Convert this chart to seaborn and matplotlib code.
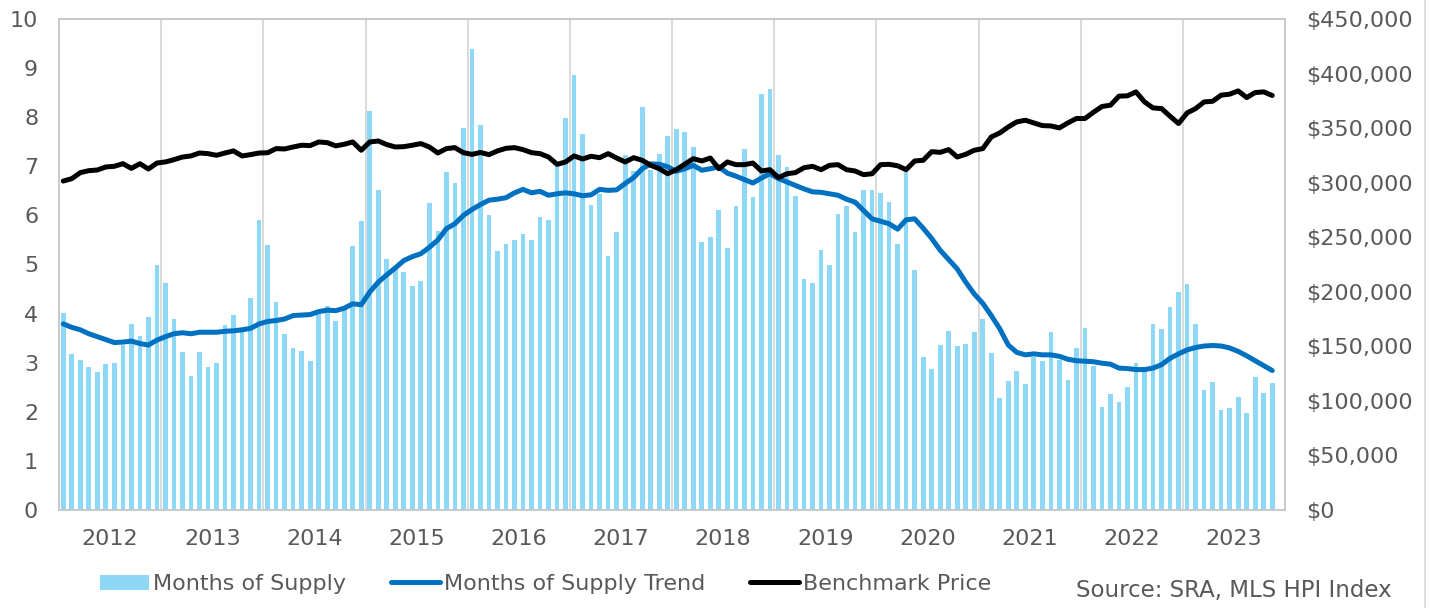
import numpy as np
import pandas as pd
import matplotlib
matplotlib.use("Agg")
import matplotlib.pyplot as plt
from matplotlib.ticker import FuncFormatter, FixedLocator
from matplotlib.lines import Line2D
import seaborn as sns

# ---- data (monthly, Jan 2012 - Nov 2023) ----
years = ["2012", "2013", "2014", "2015", "2016", "2017",
         "2018", "2019", "2020", "2021", "2022", "2023"]

months_of_supply = [
    4.01, 3.17, 3.05, 2.91, 2.82, 2.98, 2.99, 3.37, 3.79, 3.55, 3.93, 5.00,
    4.63, 3.90, 3.22, 2.72, 3.22, 2.91, 3.00, 3.77, 3.97, 3.65, 4.31, 5.91,
    5.40, 4.24, 3.59, 3.29, 3.24, 3.04, 4.00, 4.16, 3.84, 4.10, 5.37, 5.88,
    8.12, 6.51, 5.11, 4.95, 4.85, 4.56, 4.66, 6.26, 5.68, 6.88, 6.65, 7.79,
    9.39, 7.84, 6.01, 5.27, 5.41, 5.50, 5.63, 5.49, 5.96, 5.91, 7.04, 7.98,
    8.86, 7.65, 6.21, 6.44, 5.18, 5.67, 7.22, 6.90, 8.21, 6.92, 7.26, 7.62,
    7.76, 7.69, 7.39, 5.45, 5.57, 6.10, 5.33, 6.20, 7.35, 6.37, 8.47, 8.58,
    7.22, 6.99, 6.39, 4.71, 4.63, 5.30, 4.99, 6.03, 6.19, 5.67, 6.51, 6.52,
    6.46, 6.27, 5.42, 6.88, 4.88, 3.11, 2.87, 3.37, 3.64, 3.35, 3.39, 3.63,
    3.89, 3.19, 2.28, 2.63, 2.84, 2.56, 3.11, 3.04, 3.62, 3.05, 2.65, 3.29,
    3.71, 2.94, 2.10, 2.36, 2.19, 2.50, 2.99, 2.87, 3.79, 3.68, 4.13, 4.43,
    4.61, 3.79, 2.44, 2.61, 2.04, 2.07, 2.31, 1.97, 2.71, 2.38, 2.59,
]

supply_trend = [
    3.79, 3.72, 3.67, 3.59, 3.53, 3.47, 3.41, 3.42, 3.44, 3.39, 3.36, 3.46,
    3.53, 3.59, 3.61, 3.59, 3.62, 3.62, 3.62, 3.64, 3.65, 3.67, 3.70, 3.79,
    3.84, 3.86, 3.89, 3.96, 3.97, 3.98, 4.04, 4.07, 4.06, 4.11, 4.20, 4.18,
    4.44, 4.64, 4.79, 4.93, 5.08, 5.16, 5.22, 5.35, 5.50, 5.73, 5.83, 6.00,
    6.12, 6.22, 6.31, 6.33, 6.36, 6.46, 6.53, 6.46, 6.49, 6.41, 6.44, 6.46,
    6.44, 6.40, 6.42, 6.53, 6.51, 6.52, 6.65, 6.77, 6.95, 7.05, 7.04, 6.99,
    6.90, 6.95, 7.02, 6.92, 6.95, 6.99, 6.86, 6.80, 6.73, 6.66, 6.76, 6.85,
    6.75, 6.68, 6.61, 6.54, 6.48, 6.47, 6.44, 6.41, 6.33, 6.27, 6.10, 5.93,
    5.88, 5.83, 5.72, 5.91, 5.93, 5.74, 5.53, 5.29, 5.10, 4.91, 4.64, 4.40,
    4.21, 3.96, 3.69, 3.36, 3.21, 3.16, 3.18, 3.16, 3.16, 3.13, 3.07, 3.04,
    3.03, 3.02, 2.99, 2.97, 2.89, 2.88, 2.86, 2.86, 2.89, 2.96, 3.09, 3.18,
    3.26, 3.31, 3.34, 3.35, 3.34, 3.30, 3.23, 3.14, 3.04, 2.94, 2.84,
]

benchmark_price = [
    301500, 303650, 309200, 311000, 311600, 314400, 315000, 317400, 313100, 317400, 312500, 318000,
    319000, 321100, 323500, 324500, 327200, 326600, 325100, 327200, 329100, 324500, 325700, 327200,
    327400, 331200, 330900, 332700, 334300, 334000, 337300, 336700, 333700, 335200, 337300, 329700,
    337300, 338200, 334900, 332700, 333000, 334300, 335800, 332700, 327200, 331200, 332100, 327500,
    325900, 327700, 325700, 329100, 331500, 332100, 330300, 327500, 326600, 323500, 316800, 319000,
    324500, 321700, 324200, 322900, 326600, 322600, 319000, 322900, 320500, 315900, 312800, 308200,
    311900, 317000, 322000, 319900, 322600, 312800, 319000, 316500, 316500, 318000, 310700, 311900,
    304600, 308200, 309200, 313700, 315000, 311900, 315900, 316500, 311900, 310700, 307300, 308200,
    316500, 316800, 315500, 311900, 319900, 320500, 328400, 327800, 330300, 323500, 326000, 329700,
    331200, 341900, 345600, 351100, 355700, 357200, 354800, 352300, 352000, 350200, 354800, 358800,
    358800, 364500, 369800, 371000, 379300, 379600, 383200, 374000, 368500, 367900, 360900, 354200,
    363900, 367900, 374000, 374600, 380200, 381100, 384100, 378000, 382600, 383200, 379900,
]

series_labels = ["Months of Supply", "Months of Supply Trend", "Benchmark Price"]
source_note = "Source: SRA, MLS HPI Index"

df = pd.DataFrame({
    "month": np.arange(len(months_of_supply)),
    "supply": months_of_supply,
    "trend": supply_trend,
    "price": benchmark_price,
})

# ---- styling ----
sns.set_theme(style="white")
plt.rcParams["font.family"] = ["DejaVu Sans"]
text_color = "#595959"
bar_color = "#8DD7F7"
trend_color = "#0070C0"
frame_color = "#C9C9C9"
grid_color = "#D9D9D9"
fs = 16

fig = plt.figure(figsize=(14.34, 6.08), dpi=100)
ax = fig.add_axes([59 / 1434, 1 - 510 / 608, (1285 - 59) / 1434, (510 - 19) / 608])

sns.barplot(data=df, x="month", y="supply", native_scale=True, width=0.55,
            color=bar_color, saturation=1, edgecolor="none", linewidth=0,
            label=series_labels[0], ax=ax, zorder=2)
sns.lineplot(data=df, x="month", y="trend", color=trend_color, linewidth=3.6,
             label=series_labels[1], ax=ax, zorder=3, solid_capstyle="round")

ax2 = ax.twinx()
sns.lineplot(data=df, x="month", y="price", color="black", linewidth=3.6,
             label=series_labels[2], ax=ax2, zorder=4, solid_capstyle="round")

for a in (ax, ax2):
    if a.get_legend() is not None:
        a.get_legend().remove()

n_slots = 12 * len(years)
ax.set_xlim(-0.5, n_slots - 0.5)
ax.set_ylim(0, 10)
ax2.set_ylim(0, 450000)

ax.set_yticks(np.arange(0, 11, 1))
ax2.set_yticks(np.arange(0, 450001, 50000))
ax2.yaxis.set_major_formatter(FuncFormatter(lambda v, p: f"${v:,.0f}"))

ax.set_xticks([5.5 + 12 * i for i in range(len(years))])
ax.set_xticklabels(years)
ax.xaxis.set_minor_locator(FixedLocator([11.5 + 12 * i for i in range(len(years) - 1)]))
ax.grid(False)
ax2.grid(False)
ax.grid(True, which="minor", axis="x", color=grid_color, linewidth=1.4, zorder=0)
ax.set_axisbelow(True)

ax.set_xlabel("")
ax.set_ylabel("")
ax2.set_ylabel("")

ax.tick_params(axis="both", which="both", length=0, labelsize=fs, labelcolor=text_color)
ax.tick_params(axis="y", pad=15)
ax.tick_params(axis="x", pad=14)
ax2.tick_params(axis="y", length=0, labelsize=fs, labelcolor=text_color, pad=15)

for a in (ax, ax2):
    for s in a.spines.values():
        s.set_color(frame_color)
        s.set_linewidth(1.3)

# legend along the bottom, in series order
h1, l1 = ax.get_legend_handles_labels()
h2, l2 = ax2.get_legend_handles_labels()
lookup = dict(zip(l1 + l2, h1 + h2))
handles = [lookup[name] for name in series_labels]
fig.legend(handles, series_labels, loc="center left",
           bbox_to_anchor=(100 / 1434, 1 - 584 / 608), ncol=3, frameon=False,
           fontsize=fs, labelcolor=text_color, borderpad=0, borderaxespad=0,
           handlelength=2.2, handleheight=0.65, handletextpad=0.2, columnspacing=2.0)

fig.text(1392 / 1434, 1 - 590 / 608, source_note, ha="right", va="center",
         fontsize=fs + 0.5, color=text_color)

# outer chart border on the right
fig.add_artist(Line2D([1425 / 1434, 1425 / 1434], [0, 1], transform=fig.transFigure,
                      color=grid_color, linewidth=1.3))

fig.savefig("out.png", dpi=100)
